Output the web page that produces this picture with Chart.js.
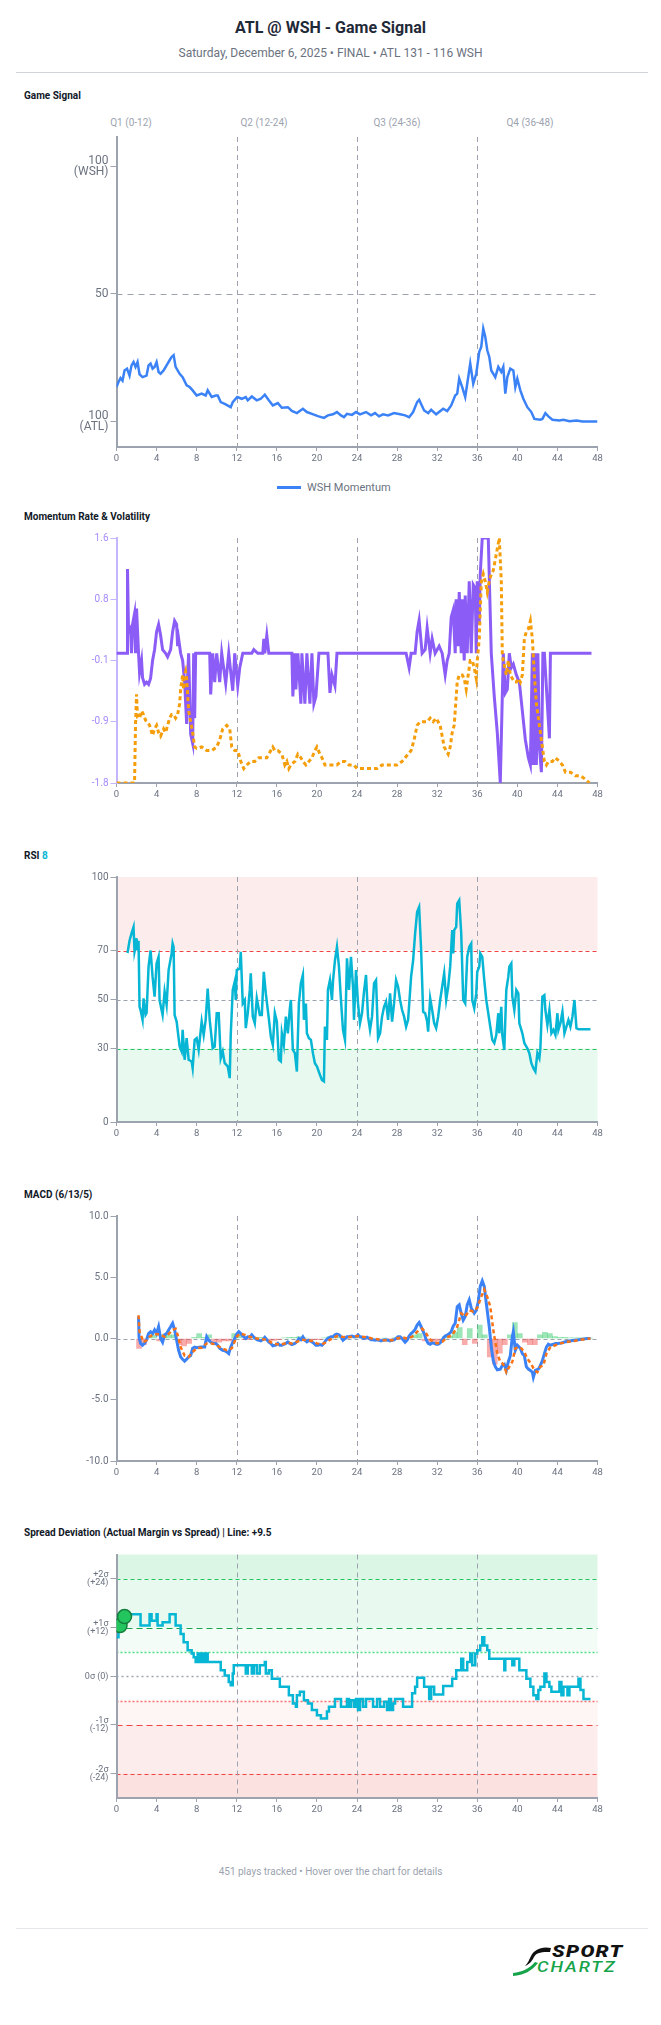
<!DOCTYPE html>
<html><head><meta charset="utf-8">
<script src="https://cdn.jsdelivr.net/npm/chart.js@4.4.1/dist/chart.umd.min.js"></script>
<style>
body{margin:0;background:#fff;font-family:Roboto,'Noto Sans',sans-serif;}
#page{position:relative;width:661px;height:2025px;overflow:hidden;background:#fff;}
.abs{position:absolute;}
.sec{position:absolute;left:24px;font-weight:700;font-size:10px;color:#111827;line-height:12px;white-space:nowrap;}
.q{position:absolute;top:117px;font-size:10px;color:#9ca3af;transform:translateX(-50%);white-space:nowrap;line-height:12px;}
canvas{position:absolute;left:0;}
</style></head>
<body><div id="page">
<div class="abs" style="top:18px;left:0;width:661px;text-align:center;font-size:16px;font-weight:700;color:#1f2937;line-height:20px">ATL @ WSH - Game Signal</div>
<div class="abs" style="top:45px;left:0;width:661px;text-align:center;font-size:12px;color:#6b7280;line-height:16px">Saturday, December 6, 2025 • FINAL • ATL 131 - 116 WSH</div>
<div class="abs" style="top:72px;left:16px;width:632px;height:1px;background:#d1d5db"></div>

<div class="sec" style="top:90px">Game Signal</div>
<div class="q" style="left:131px">Q1 (0-12)</div>
<div class="q" style="left:264px">Q2 (12-24)</div>
<div class="q" style="left:397px">Q3 (24-36)</div>
<div class="q" style="left:530px">Q4 (36-48)</div>
<canvas id="c1" width="661" height="337" style="top:130px;width:661px;height:337px"></canvas>
<div class="abs" style="top:486px;left:277px;width:24px;height:3px;background:#3b82f6"></div>
<div class="abs" style="top:481px;left:307px;font-size:11px;color:#6b7280;line-height:13px;white-space:nowrap">WSH Momentum</div>

<div class="sec" style="top:511px">Momentum Rate &amp; Volatility</div>
<canvas id="c2" width="661" height="273" style="top:530px;width:661px;height:273px"></canvas>

<div class="sec" style="top:850px">RSI <span style="color:#06b6d4">8</span></div>
<canvas id="c3" width="661" height="272" style="top:870px;width:661px;height:272px"></canvas>

<div class="sec" style="top:1189px">MACD (6/13/5)</div>
<canvas id="c4" width="661" height="273" style="top:1208px;width:661px;height:273px"></canvas>

<div class="sec" style="top:1527px">Spread Deviation (Actual Margin vs Spread) | Line: +9.5</div>
<canvas id="c5" width="661" height="272" style="top:1546px;width:661px;height:272px"></canvas>

<div class="abs" style="top:1866px;left:0;width:661px;text-align:center;font-size:10px;color:#9ca3af;line-height:12px">451 plays tracked • Hover over the chart for details</div>
<div class="abs" style="top:1928px;left:16px;width:632px;height:1px;background:#e5e7eb"></div>
<div class="abs" style="top:1944px;left:510px;width:130px;height:34px">
  <svg width="44" height="34" style="position:absolute;left:0;top:0">
    <path d="M41,4 C31,2 24,6 21,12 C19,16 18,19 15,22 C20,20 22,17 24,13 C27,8 32,8 40,8 Z" fill="#111"/>
    <path d="M3,29 C12,28 19,25 25,18 L28,19 C22,27 14,31 3,32 Z" fill="#16a34a"/>
  </svg>
  <span style="position:absolute;left:42px;top:1px;transform-origin:left top;transform:scaleX(1.3);font-style:italic;font-weight:900;font-size:16px;line-height:14px;color:#111;letter-spacing:1px;white-space:nowrap">SPORT</span>
  <span style="position:absolute;left:27px;top:16px;transform-origin:left top;transform:scaleX(1.3);font-style:italic;font-weight:500;font-size:14px;line-height:14px;color:#16a34a;letter-spacing:1.5px;white-space:nowrap">CHARTZ</span>
</div>
</div>
<script>
// ---------- DATA ----------
const xTickValues = [0,4,8,12,16,20,24,28,32,36,40,44,48];
const quarterLines = [12,24,36];

// Game Signal (WSH momentum, 0 = ATL side, 100 = WSH side)
const gsMinutes = [0,0.2,0.4,0.6,0.8,1.05,1.3,1.5,1.7,1.9,
 2.1,2.3,2.6,3.0,3.2,3.4,3.6,3.8,4.0,4.2,
 4.4,4.7,5.1,5.3,5.5,5.7,5.9,6.3,6.6,7.0,
 7.3,7.6,8.0,8.5,8.9,9.1,9.5,9.9,10.1,10.4,
 10.8,11.4,11.6,12.05,12.5,12.9,13.1,13.5,14.0,14.4,
 14.8,15.2,15.6,16.1,16.5,17.1,17.5,18.0,18.6,19.0,
 19.5,20.1,20.7,21.1,21.6,22.0,22.4,22.7,23.0,23.5,
 23.9,24.3,24.9,25.4,25.8,26.2,26.6,27.1,27.7,28.3,
 28.8,29.2,29.6,30.0,30.2,30.7,31.1,31.4,31.9,32.6,
 33.0,33.4,33.8,34.0,34.2,34.5,34.8,35.0,35.3,35.6,
 35.9,36.2,36.4,36.6,36.8,37.0,37.2,37.4,37.8,38.1,
 38.4,38.6,38.8,39.0,39.3,39.6,39.8,40.0,40.3,40.6,
 41.0,41.4,41.7,42.3,42.5,42.8,43.1,43.5,44.2,44.6,
 45.2,45.9,46.5,48];
const gsValues = [13.5,15.5,17,16,20,20.7,18,22,23.3,21.4,
 23.3,18.5,17.4,18,22,22.7,20.7,21.4,23.3,19.4,
 18.7,20,22.7,24,25.3,26,21.4,18.7,17.4,14.2,
 13.5,12.2,10.2,10.9,10.2,12.2,9.6,10.2,10.2,7.6,
 6.9,5.6,7.6,9.6,8.9,9.6,8.3,9.8,8.3,8.9,
 10.5,8.3,6.3,7.2,5.4,5.6,4.1,3.3,5.0,3.7,
 3.0,2.1,1.4,2.4,2.8,3.7,2.4,1.7,3.0,2.6,
 3.7,2.8,3.7,2.4,3.3,2.0,2.8,2.4,3.3,2.8,
 2.4,1.7,3.7,7.6,8.5,4.3,3.3,4.6,2.8,5.0,
 4.1,6.3,10.2,10.9,16.8,13.5,9.6,14.8,22.7,14.8,
 18.7,27.3,29.2,36.4,33.2,27.9,25.3,20,17.4,21.4,
 19.4,21.4,10.9,17.4,20.7,20,13.5,16.8,12.2,8.9,
 5.6,3.7,1.0,0.7,1.0,3.3,2.0,0.7,0.4,0.7,
 0.1,0.4,0,0];
const gsTickValues = [0,50,100];
const gsTickLabels = [['100','(ATL)'],'50',['100','(WSH)']];

// Momentum rate (purple) and volatility (orange dotted)
const rateMinutes = [0,1.05,1.1,1.2,1.4,1.5,1.6,1.8,1.9,2.0,
 2.2,2.3,2.5,2.6,2.8,3.0,3.2,3.4,3.6,3.8,
 4.0,4.2,4.4,4.6,4.9,5.1,5.4,5.6,5.8,6.0,
 6.1,6.2,6.4,6.6,6.8,7.0,7.1,7.2,7.4,7.6,
 7.7,7.8,7.9,9.3,9.4,9.6,9.8,10.0,10.3,10.5,
 10.9,11.2,11.6,11.8,12.1,12.3,12.6,13.5,13.7,14.1,
 14.6,14.7,14.8,15.0,15.2,17.5,17.6,17.8,17.9,18.1,
 18.4,18.5,18.8,19.0,19.3,19.5,19.7,19.9,20.2,21.1,
 21.3,21.5,21.8,22.0,28.9,29.2,29.4,29.8,30.0,30.2,
 30.5,30.8,31.0,31.3,31.5,31.8,32.2,32.5,32.6,32.8,
 33.0,33.2,33.4,33.6,33.8,33.9,34.1,34.2,34.4,34.5,
 34.7,34.8,35.0,35.2,35.4,35.6,35.8,35.9,36.0,36.2,
 36.3,36.5,37.1,37.4,37.7,38.0,38.3,38.6,38.8,39.0,
 39.2,39.4,39.6,39.9,40.2,40.5,40.8,41.1,41.3,41.5,
 41.6,41.75,41.9,42.05,42.2,42.4,42.55,42.7,43.2,43.3,
 47.4];
const rateValues = [0,0,1.17,0.3,0.35,0,0.4,0.55,0,0.62,
 0,-0.27,-0.1,-0.34,-0.43,-0.4,-0.43,-0.35,-0.1,0.05,
 0.3,0.4,0.25,0.05,0,-0.05,0.05,0.3,0.45,0.4,
 0.1,0.2,0,-0.1,-0.4,-0.98,-0.3,0,-1.12,-1.25,
 0,-0.9,0,0,-0.57,0,-0.4,0,-0.4,0,
 -0.42,0,-0.52,0,-0.45,-0.2,0,0,0.05,0,
 0,0.2,0,0.25,0,0,-0.6,0,-0.5,0,
 -0.7,0,-0.7,0,-0.7,0,-0.7,-0.6,0,0,
 -0.55,-0.3,-0.45,0,0,-0.2,0,0,0.3,0.46,
 0,0.05,0.35,0,0.2,0,0.1,0,-0.1,-0.3,
 -0.1,0,0.5,0.6,0,0.75,0.1,0.85,0,0.75,
 -0.1,0.8,0,1.0,0,0.95,0.9,0,1.0,0.4,
 1.1,1.6,1.6,0,-0.6,-1.1,-1.8,0,-0.55,-0.5,
 0,-0.2,-0.15,-0.3,-0.4,-0.8,-1.2,-1.45,-1.55,0,
 -1.55,0,-1.55,0,-1.3,-1.65,0,0,-1.18,0,
 0];
const volMinutes = [0,1.8,1.9,2.0,2.1,2.3,2.5,2.7,2.9,3.1,
 3.3,3.6,3.8,4.0,4.2,4.4,4.7,4.9,5.1,5.3,
 5.5,5.7,5.9,6.1,6.3,6.4,6.6,6.7,6.8,6.9,
 7.0,7.2,7.4,7.6,7.8,8.0,8.5,9.0,9.5,10.0,
 10.3,10.6,11.0,11.3,11.5,11.8,12.1,12.4,12.7,13.0,
 13.4,13.8,14.2,14.6,15.0,15.4,15.6,15.8,16.1,16.5,
 16.8,17.0,17.2,17.4,17.8,18.1,18.4,18.6,18.9,19.2,
 19.5,19.8,20.0,20.3,20.5,20.8,21.2,21.6,22.0,22.4,
 22.8,23.2,23.7,24.0,24.5,25.0,25.5,26.0,26.5,27.0,
 27.5,28.0,28.5,28.8,29.1,29.4,29.7,30.0,30.3,30.6,
 31.0,31.3,31.6,31.9,32.1,32.3,32.5,32.7,32.9,33.1,
 33.3,33.5,33.7,33.8,33.9,34.0,34.2,34.5,34.7,34.9,
 35.1,35.3,35.5,35.7,35.9,36.0,36.2,36.4,36.6,36.8,
 37.0,37.2,37.4,37.6,37.8,38.0,38.2,38.4,38.5,38.6,
 38.9,39.1,39.3,39.5,39.7,39.9,40.1,40.3,40.5,40.7,
 40.9,41.1,41.3,41.5,41.7,41.9,42.1,42.3,42.5,42.7,
 42.9,43.1,43.5,43.8,44.2,44.5,44.8,45.3,45.8,46.3,
 46.8,47.2];
const volValues = [-1.8,-1.8,-0.98,-0.57,-0.89,-0.9,-0.8,-0.85,-0.93,-0.95,
 -1.0,-1.14,-1.05,-1.0,-1.1,-1.15,-1.05,-1.1,-1.0,-0.9,
 -0.85,-0.85,-0.9,-0.85,-0.7,-0.5,-0.3,-0.5,-0.3,-0.25,
 -0.35,-0.8,-0.95,-1.1,-1.3,-1.32,-1.3,-1.35,-1.35,-1.3,
 -1.2,-1.05,-1.0,-1.05,-1.3,-1.35,-1.35,-1.5,-1.6,-1.55,
 -1.5,-1.5,-1.45,-1.45,-1.45,-1.35,-1.3,-1.35,-1.35,-1.4,
 -1.55,-1.5,-1.6,-1.55,-1.5,-1.4,-1.45,-1.5,-1.55,-1.5,
 -1.45,-1.35,-1.3,-1.4,-1.45,-1.55,-1.55,-1.55,-1.55,-1.5,
 -1.5,-1.55,-1.55,-1.6,-1.6,-1.6,-1.6,-1.6,-1.55,-1.55,
 -1.55,-1.55,-1.5,-1.45,-1.4,-1.35,-1.2,-1.0,-0.95,-0.95,
 -0.95,-0.9,-0.95,-0.9,-0.95,-1.0,-1.15,-1.3,-1.35,-1.4,
 -1.3,-1.1,-1.0,-0.8,-0.6,-0.4,-0.3,-0.3,-0.35,-0.5,
 -0.3,-0.1,-0.1,-0.2,-0.35,-0.1,0.2,0.98,1.1,1.0,
 0.85,1.0,1.1,1.15,1.3,1.45,1.6,1.0,0,-0.1,
 -0.3,-0.1,-0.3,-0.35,-0.4,-0.4,-0.35,-0.4,-0.3,0.2,
 0.3,0.34,0.45,0.2,-0.3,-0.7,-0.9,-1.1,-1.3,-1.5,
 -1.55,-1.5,-1.5,-1.45,-1.5,-1.55,-1.65,-1.65,-1.7,-1.7,
 -1.75,-1.8];
const momTickValues = [-1.8,-0.95,-0.1,0.75,1.6];
const momTickLabels = ['-1.8','-0.9','-0.1','0.8','1.6'];

// RSI (8)
const rsiMinutes = [1.1,1.3,1.5,1.7,1.8,1.9,2.0,2.1,2.2,2.3,
 2.4,2.6,2.7,2.9,3.0,3.2,3.4,3.6,3.8,4.0,
 4.2,4.3,4.6,4.8,5.0,5.2,5.5,5.6,5.7,5.8,
 6.0,6.3,6.5,6.6,6.8,7.0,7.2,7.5,7.6,7.8,
 8.0,8.2,8.5,8.7,8.9,9.1,9.3,9.6,9.8,10.0,
 10.2,10.4,10.6,10.8,11.1,11.3,11.4,11.6,11.8,11.9,
 12.0,12.3,12.4,12.6,12.8,12.9,13.1,13.3,13.4,13.6,
 13.8,14.0,14.3,14.5,14.7,14.9,15.2,15.4,15.6,15.8,
 16.0,16.2,16.4,16.5,16.7,16.9,17.1,17.3,17.4,17.6,
 17.8,18.0,18.2,18.4,18.6,18.7,18.9,19.0,19.2,19.4,
 19.6,19.8,20.0,20.3,20.5,20.7,20.8,21.0,21.1,21.3,
 21.5,21.6,21.8,22.0,22.2,22.4,22.6,22.8,23.0,23.2,
 23.4,23.6,23.7,23.9,24.1,24.3,24.5,24.7,24.9,25.1,
 25.3,25.5,25.7,25.9,26.1,26.3,26.5,26.7,26.9,27.1,
 27.3,27.5,27.7,27.9,28.1,28.3,28.5,28.7,28.9,29.1,
 29.4,29.6,29.8,30.0,30.2,30.4,30.6,30.8,31.0,31.1,
 31.3,31.5,31.7,31.9,32.1,32.3,32.5,32.7,32.9,33.1,
 33.3,33.5,33.6,33.7,33.9,34.0,34.2,34.4,34.6,34.8,
 35.0,35.2,35.4,35.5,35.7,35.9,36.0,36.2,36.3,36.5,
 36.7,36.9,37.1,37.3,37.5,37.7,37.9,38.1,38.2,38.4,
 38.5,38.7,38.9,39.1,39.2,39.4,39.5,39.7,39.9,40.1,
 40.2,40.4,40.5,40.7,41.0,41.2,41.4,41.6,41.8,42.0,
 42.2,42.3,42.5,42.7,42.8,43.0,43.2,43.4,43.6,43.8,
 44.0,44.1,44.3,44.5,44.7,44.9,45.1,45.3,45.5,45.7,
 45.9,46.1,47.3];
const rsiValues = [69,74,77,79.6,69.5,71.5,75,70,74,47,
 45.7,41.7,50.5,43.7,44.4,63.4,70,59.3,51.2,64.7,
 67.4,49.8,43.7,53.2,47.8,62,68.8,72.9,71.5,43.7,
 41,30.8,28.8,37.6,25.4,34.2,25.4,24.7,22,33.5,
 34.2,29.4,41,35.5,41.7,54.5,41.7,30.1,30.8,44.4,
 44.4,26,28.8,24,22.7,17.9,35.5,53.9,57.3,49.8,
 62,62.7,69.5,48.4,49.8,38.3,44.4,53.9,60.7,43,
 40.3,50.5,43.7,43.7,61.3,52.5,42.3,34.9,31.5,44.4,
 41,25.4,24.7,36.2,31.5,43,36.2,46.4,49.8,29.4,
 28.1,20.6,48.4,56.6,60,41.7,48.4,36.2,34.2,33.5,
 28.1,24,22.7,19.3,17.2,16.6,39,33.5,53.9,57.9,
 49.8,57.3,66,71.5,63.4,49.8,37.6,33.5,66.8,53.9,
 67.4,55.2,41.7,62,48.4,40.3,44.4,53.2,60,43,
 37.6,43,56.6,57.9,34.2,36.2,43,47,49.1,41.7,
 52.5,41,48.4,57.9,55.2,49.8,45.7,43,38.9,41.7,
 59.3,66,77,85.8,87.8,70.1,45,44.4,41,36.9,
 50.5,45.7,40.3,38.3,43,49.8,55.2,60.7,49.8,55.2,
 63.4,78.3,68.8,78.3,79.6,89.1,90.5,77,49.8,48.4,
 67.4,71.5,72.9,49.8,46.4,52.5,61.3,63.4,68.8,67.4,
 57.9,49.8,44.4,38.9,33.5,32.2,35.5,44.4,36.2,47,
 35.5,29.4,53.9,59.3,63.4,64.7,51.2,45.7,53.9,52.5,
 40.3,37.6,36.2,32.2,30.1,28.1,24,22,20.6,28.1,
 26,30.1,51.2,51.8,45.7,39.6,45.7,36.2,37.6,35.5,
 44.4,37.6,40.3,45,36.2,38.9,41.7,38.9,43,49.8,
 38.3,37.9,37.9];
const rsiTickValues = [0,30,50,70,100];
const rsiTickLabels = ['0','30','50','70','100'];

// MACD (6/13/5)
const macdMinutes = [2.2,2.25,2.4,2.6,2.8,3.0,3.2,3.4,3.6,3.8,
 4.0,4.2,4.4,4.6,4.8,5.0,5.2,5.4,5.6,5.8,
 6.0,6.2,6.4,6.6,6.8,7.0,7.2,7.4,7.6,7.8,
 8.0,8.4,8.8,9.0,9.2,9.4,9.6,9.9,10.1,10.3,
 10.6,10.8,11.0,11.2,11.4,11.6,11.8,12.0,12.2,12.4,
 12.6,12.9,13.1,13.3,13.5,13.7,14.0,14.2,14.4,14.6,
 14.8,15.0,15.2,15.4,15.6,15.9,16.1,16.3,16.5,16.7,
 16.9,17.1,17.3,17.5,17.8,18.0,18.2,18.4,18.6,18.8,
 19.0,19.2,19.5,19.7,19.9,20.1,20.3,20.5,20.7,20.9,
 21.1,21.4,21.6,21.8,22.0,22.2,22.4,22.6,22.8,23.0,
 23.2,23.5,23.7,23.9,24.1,24.3,24.5,24.7,25.0,25.2,
 25.4,25.6,25.8,26.0,26.2,26.4,26.6,26.8,27.1,27.3,
 27.5,27.7,27.9,28.1,28.3,28.5,28.8,29.0,29.2,29.4,
 29.6,29.8,30.0,30.2,30.4,30.7,30.9,31.1,31.3,31.5,
 31.7,31.9,32.1,32.3,32.6,32.8,33.0,33.2,33.4,33.6,
 33.8,34.0,34.2,34.4,34.6,34.8,35.0,35.2,35.4,35.7,
 35.9,36.1,36.3,36.5,36.7,36.9,37.2,37.4,37.6,37.8,
 38.0,38.3,38.5,38.7,38.9,39.1,39.3,39.5,39.6,39.8,
 40.0,40.3,40.5,40.7,40.9,41.1,41.3,41.5,41.6,41.8,
 42.1,42.3,42.5,42.7,42.9,43.1,43.3,43.6,43.8,44.0,
 44.4,44.8,45.2,45.7,46.1,46.5,47.0,47.3];
const macdValues = [1.8,0.1,-0.4,-0.55,-0.4,-0.1,0.4,0.55,0.4,0.7,
 0.4,0.96,0,-0.3,0.3,0.4,0.7,0.96,1.24,0.7,
 -0.14,-0.96,-1.5,-1.7,-1.85,-1.7,-1.5,-1.4,-0.8,-0.7,
 -0.75,-0.7,-0.7,0.14,-0.14,-0.3,-0.4,-0.4,-0.55,-0.8,
 -0.96,-1.0,-1.1,-1.24,-0.7,-0.3,0,0.36,0.55,0.4,
 0.2,0,0.14,0.1,0.3,0.1,-0.1,-0.14,-0.2,-0.1,
 0.1,-0.1,-0.3,-0.4,-0.6,-0.55,-0.4,-0.55,-0.55,-0.47,
 -0.4,-0.27,-0.4,-0.5,-0.4,-0.27,0,-0.1,0.14,-0.14,
 -0.27,-0.14,-0.27,-0.4,-0.55,-0.55,-0.5,-0.55,-0.4,-0.14,
 0,0.14,0.14,0.3,0.36,0.3,0.14,-0.14,0,0.14,
 0.14,0.2,0.14,0.14,0.3,0.14,0.1,0,0.1,0,
 -0.1,-0.1,-0.14,-0.1,-0.14,-0.2,-0.14,-0.1,-0.14,-0.2,
 -0.14,-0.1,0,0.14,0.14,0,-0.3,-0.14,0.2,0.4,
 0.55,0.74,1.1,1.3,0.96,0.4,-0.1,-0.4,-0.47,-0.36,
 -0.4,-0.47,-0.47,-0.36,0,0.2,0.27,0.4,0.55,1.0,
 1.24,2.6,2.75,2.06,1.5,1.8,2.75,3.16,2.5,2.06,
 2.3,3.0,4.26,4.7,4.26,2.9,0.96,-0.7,-1.8,-2.3,
 -2.55,-2.5,-2.2,-2.1,-2.6,-1.9,-1.4,0.14,0.55,-0.96,
 -0.55,-0.8,-1.24,-1.4,-2.3,-2.5,-2.6,-2.75,-3.16,-2.6,
 -2.5,-2.2,-1.8,-1.24,-0.7,-0.47,-0.55,-0.47,-0.4,-0.4,
 -0.36,-0.27,-0.2,-0.14,-0.1,-0.05,0,0];
const signalMinutes = [2.2,2.3,2.5,2.7,3.0,3.3,3.6,4.0,4.4,4.8,
 5.2,5.6,5.9,6.1,6.4,6.8,7.2,7.6,8.0,8.5,
 9.0,9.5,10.0,10.5,11.0,11.5,12.0,12.3,12.8,13.3,
 14.0,14.5,15.0,15.5,16.0,16.5,17.0,17.5,18.0,18.5,
 19.0,19.5,20.0,20.5,21.0,21.5,22.0,22.5,23.0,23.5,
 24.0,24.5,25.0,25.5,26.0,26.5,27.0,27.5,28.0,28.5,
 29.0,29.5,30.0,30.5,30.8,31.2,31.6,32.0,32.5,33.0,
 33.5,34.0,34.4,34.8,35.2,35.6,36.0,36.4,36.7,37.0,
 37.3,37.6,38.0,38.3,38.6,38.9,39.2,39.5,39.8,40.1,
 40.4,40.7,41.0,41.4,41.7,42.0,42.3,42.6,42.9,43.3,
 43.8,44.3,45.0,45.7,46.3,47.0,47.3];
const signalValues = [1.9,0.55,0.14,-0.3,-0.14,0.14,0.3,0.36,0.3,0.14,
 0.36,0.7,0.8,0.3,-0.7,-1.4,-1.5,-1.1,-0.8,-0.75,
 -0.4,-0.4,-0.55,-0.8,-0.96,-0.8,0.14,0.4,0.3,0.14,
 0,-0.05,-0.1,-0.36,-0.47,-0.47,-0.36,-0.4,-0.27,-0.1,
 -0.14,-0.2,-0.4,-0.47,-0.27,0,0.2,0.14,0.1,0.14,
 0.2,0.14,0.1,0,-0.05,-0.14,-0.14,-0.14,0,0.1,
 0,0.14,0.55,0.8,0.55,0,-0.27,-0.4,-0.27,0.1,
 0.27,0.96,2.06,1.8,2.3,2.2,2.5,3.4,4.0,3.4,
 2.6,0.7,-1.24,-1.9,-2.1,-2.75,-2.3,-1.9,-0.8,-0.7,
 -0.8,-1.1,-1.65,-2.1,-2.6,-2.75,-2.3,-2.2,-1.24,-0.7,
 -0.55,-0.4,-0.27,-0.2,-0.1,-0.03,0];
const histMinutes = [2.25,2.75,3.25,3.75,4.25,4.75,5.25,5.75,6.25,6.75,
 7.25,7.75,8.25,8.75,9.25,9.75,10.25,10.75,11.25,11.75,
 12.25,12.75,13.25,13.75,14.25,14.75,15.25,15.75,16.25,16.75,
 17.25,17.75,18.25,18.75,19.25,19.75,20.25,20.75,21.25,21.75,
 22.25,22.75,23.25,23.75,24.25,24.75,25.25,25.75,26.25,26.75,
 27.25,27.75,28.25,28.75,29.25,29.75,30.25,30.75,31.25,31.75,
 32.25,32.75,33.25,33.75,34.25,34.75,35.25,35.75,36.25,36.75,
 37.25,37.75,38.25,38.75,39.25,39.75,40.25,40.75,41.25,41.75,
 42.25,42.75,43.25,43.75,44.25,44.75,45.25,45.75,46.25,46.75,
 47.25];
const histValues = [-0.8,-0.5,0.2,0.3,-0.2,0.3,0.3,0.3,-0.5,-0.6,
 -0.4,0.1,0.4,0.1,0.3,-0.3,-0.3,-0.2,-0.2,0.4,
 0.3,-0.1,-0.1,0.05,0.1,0.05,-0.15,-0.15,-0.1,0.05,
 0.1,0.1,0.15,0.05,-0.1,-0.1,-0.1,0.05,0.15,0.15,
 0.1,-0.05,0.05,0.05,0.05,-0.05,-0.05,-0.05,-0.05,0.02,
 -0.02,0.05,0.05,-0.1,0.1,0.3,0.4,-0.2,-0.4,-0.3,
 -0.2,0.15,0.2,0.5,0.9,-0.5,0.8,-0.4,1.1,0.3,
 -1.5,-2.1,-1.2,-0.5,0.3,1.3,0.4,-0.3,-0.5,-0.5,
 0.3,0.5,0.4,0.15,0.1,0.1,0.05,0.05,0.05,0.02,
 0.02];
const macdTickValues = [-10,-5,0,5,10];
const macdTickLabels = ['-10.0','-5.0','0.0','5.0','10.0'];

// Spread deviation (actual margin vs spread)
const spreadMinutes = [0,0.2,0.4,0.8,1.0,1.1,2.4,3.3,3.5,4.0,
 4.1,4.6,5.3,5.9,6.4,6.7,7.1,7.5,7.7,7.9,
 8.1,8.3,8.5,8.7,8.9,9.1,10.4,10.8,11.2,11.4,
 11.6,11.7,12.9,13.1,13.5,13.7,14.0,14.3,14.8,14.9,
 15.2,15.5,16.3,17.2,17.6,17.9,18.0,18.3,18.7,19.1,
 19.5,20.0,20.4,21.0,21.2,21.8,22.4,23.0,23.2,23.4,
 23.7,23.9,24.1,24.3,24.6,24.9,25.6,26.0,26.3,26.7,
 27.0,27.2,27.4,27.6,27.8,28.6,29.5,29.8,30.0,30.7,
 31.2,31.4,31.7,32.6,33.5,33.9,34.4,34.6,35.0,35.3,
 35.5,35.8,36.0,36.3,36.5,36.7,37.0,37.2,38.7,38.8,
 39.5,39.7,40.2,40.9,41.3,41.6,41.9,42.1,42.3,42.7,
 42.9,43.2,43.4,44.2,44.4,44.6,45.0,45.2,46.1,46.3,
 46.6,47.3];
const spreadValues = [9.6,11.3,12.9,13.3,14.9,15.3,12.5,15.3,13.7,15.3,
 12.5,13.3,15.3,12.5,10.4,8.4,6.4,5.6,4.7,3.5,
 5.6,3.5,5.6,3.5,5.6,3.5,1.5,0.2,-1.4,-2.2,
 0.7,2.7,0.7,2.7,0.7,2.7,0.7,2.7,3.5,0.7,
 1.5,-0.6,-2.6,-4.7,-6.7,-7.5,-4.7,-3.8,-5.9,-6.7,
 -8.3,-9.6,-10.4,-8.7,-7.5,-5.6,-7.5,-5.6,-7.5,-5.9,
 -7.5,-5.6,-8.3,-5.6,-7.5,-5.6,-7.5,-5.6,-7.5,-6.3,
 -8.3,-5.6,-8.3,-6.7,-5.6,-7.5,-4.2,-2.6,-0.4,-2.6,
 -5.6,-2.6,-4.5,-2.4,-0.6,1.5,4.3,1.5,3.5,5.6,
 2.7,5.6,6.4,7.6,9.6,7.6,6.4,4.3,1.5,4.3,
 2.7,4.3,1.5,-0.6,-2.6,-4.7,-5.6,-3.4,-2.6,0.7,
 -1.4,-2.6,-3.8,-1.4,-4.7,-2.6,-4.7,-2.6,-0.6,-3.4,
 -5.6,-5.6];
const spreadMarkerMinutes = [0.35,0.8];
const spreadMarkerValues = [12.5,14.7];
const spreadTickValues = [-24,-12,0,12,24];
const spreadTickLabels = [['-2σ','(-24)'],['-1σ','(-12)'],'0σ (0)',['+1σ','(+12)'],['+2σ','(+24)']];

// ---------- HELPERS ----------
Chart.defaults.font.family = 'Roboto, "Noto Sans", sans-serif';
const zip = (xs, ys) => xs.map((x, i) => ({x, y: ys[i]}));
const GRID = '#9ca3af';

const refPlugin = {
  id: 'refs',
  beforeDraw(chart, args, o) {
    const {ctx, chartArea: a, scales: {x, y}} = chart;
    ctx.save();
    (o.bands || []).forEach(b => {
      const y1 = y.getPixelForValue(b.from), y2 = y.getPixelForValue(b.to);
      ctx.fillStyle = b.color;
      ctx.fillRect(a.left, Math.min(y1, y2), a.right - a.left, Math.abs(y2 - y1));
    });
    (o.h || []).forEach(l => {
      const py = Math.round(y.getPixelForValue(l.v)) + 0.5;
      ctx.beginPath(); ctx.setLineDash(l.dash || []); ctx.lineWidth = l.w || 1; ctx.strokeStyle = l.c;
      ctx.moveTo(a.left, py); ctx.lineTo(a.right, py); ctx.stroke();
    });
    quarterLines.forEach(v => {
      const px = Math.round(x.getPixelForValue(v)) + 0.5;
      ctx.beginPath(); ctx.setLineDash([5, 4]); ctx.lineWidth = 1; ctx.strokeStyle = GRID;
      ctx.moveTo(px, a.top); ctx.lineTo(px, a.bottom); ctx.stroke();
    });
    ctx.restore();
  }
};

function fixY(s) { s.width = 116.5; s.paddingTop = 0; s.paddingBottom = 0; s.paddingLeft = 0; s.paddingRight = 0; }
function fixX(s) { s.height = 20; s.paddingTop = 0; s.paddingBottom = 0; s.paddingLeft = 0; s.paddingRight = 0; }

function xScale() {
  return {
    type: 'linear', min: 0, max: 48, offset: false, afterFit: fixX,
    afterBuildTicks: s => { s.ticks = xTickValues.map(v => ({value: v})); },
    ticks: {color: '#6b7280', font: {size: 9.5}, padding: 2, maxRotation: 0, autoSkip: false},
    grid: {drawOnChartArea: false, offset: false, tickLength: 4, color: GRID},
    border: {color: GRID, width: 2}
  };
}
function yScale(min, max, vals, labels, o = {}) {
  return {
    type: 'linear', min, max, afterFit: fixY,
    afterBuildTicks: s => { s.ticks = vals.map(v => ({value: v})); },
    ticks: {color: o.tc || '#6b7280', font: {size: o.fs || 10, lineHeight: o.lh || 1.2}, padding: 2, autoSkip: false,
      callback: (v, i) => labels[i]},
    grid: {drawOnChartArea: false, tickLength: 6, color: o.bc || GRID},
    border: {color: o.bc || GRID, width: 2}
  };
}
function baseOptions(padTop, yS, refs) {
  return {
    responsive: false, animation: false, devicePixelRatio: 1,
    layout: {padding: {top: padTop, left: 0, right: 63.5, bottom: 0}},
    plugins: {legend: {display: false}, tooltip: {enabled: false}, refs},
    scales: {x: xScale(), y: yS},
    elements: {point: {radius: 0}, line: {tension: 0}}
  };
}

// ---------- CHARTS ----------
new Chart(document.getElementById('c1'), {
  type: 'line',
  data: {datasets: [{label: 'WSH Momentum', data: zip(gsMinutes, gsValues), borderColor: '#3b82f6', borderWidth: 2.5, pointRadius: 0}]},
  options: baseOptions(7, yScale(-10, 111.5, gsTickValues, gsTickLabels, {fs: 12, lh: 0.95}),
    {h: [{v: 50, c: GRID, dash: [6, 5], w: 1}]}),
  plugins: [refPlugin]
});

new Chart(document.getElementById('c2'), {
  type: 'line',
  data: {datasets: [
    {label: 'Volatility', data: zip(volMinutes, volValues), borderColor: '#f59e0b', borderWidth: 3, borderDash: [4, 3], pointRadius: 0, order: 0},
    {label: 'Momentum Rate', data: zip(rateMinutes, rateValues), borderColor: '#8b5cf6', borderWidth: 3, pointRadius: 0, order: 1}
  ]},
  options: baseOptions(8, yScale(-1.8, 1.6, momTickValues, momTickLabels, {tc: '#a78bfa', bc: '#c4b5fd'}), {}),
  plugins: [refPlugin]
});

new Chart(document.getElementById('c3'), {
  type: 'line',
  data: {datasets: [{label: 'RSI', data: zip(rsiMinutes, rsiValues), borderColor: '#06b6d4', borderWidth: 2.5, pointRadius: 0}]},
  options: baseOptions(7, yScale(0, 100, rsiTickValues, rsiTickLabels), {
    bands: [{from: 70, to: 100, color: 'rgba(239,68,68,0.1)'}, {from: 0, to: 30, color: 'rgba(34,197,94,0.1)'}],
    h: [{v: 70, c: '#ef4444', dash: [4, 3], w: 1.2}, {v: 50, c: GRID, dash: [4, 3], w: 1.2}, {v: 30, c: '#22c55e', dash: [4, 3], w: 1.2}]
  }),
  plugins: [refPlugin]
});

new Chart(document.getElementById('c4'), {
  type: 'line',
  data: {datasets: [
    {type: 'line', label: 'Signal', data: zip(signalMinutes, signalValues), borderColor: '#f97316', borderWidth: 2.5, borderDash: [4, 3], pointRadius: 0, order: 0},
    {type: 'line', label: 'MACD', data: zip(macdMinutes, macdValues), borderColor: '#3b82f6', borderWidth: 3, pointRadius: 0, order: 1},
    {type: 'bar', label: 'Histogram', data: zip(histMinutes, histValues), order: 2, barPercentage: 1, categoryPercentage: 1,
      backgroundColor: c => (c.raw && c.raw.y >= 0) ? 'rgba(34,197,94,0.45)' : 'rgba(239,68,68,0.45)'}
  ]},
  options: baseOptions(8, yScale(-10, 10, macdTickValues, macdTickLabels), {h: [{v: 0, c: GRID, dash: [4, 3], w: 1}]}),
  plugins: [refPlugin]
});

new Chart(document.getElementById('c5'), {
  type: 'line',
  data: {datasets: [
    {type: 'scatter', label: 'Markers', data: zip(spreadMarkerMinutes, spreadMarkerValues), pointRadius: 7, pointBackgroundColor: '#22c55e', pointBorderColor: '#15803d', pointBorderWidth: 1.5, showLine: false, order: 0},
    {label: 'Spread Deviation', data: zip(spreadMinutes, spreadValues), borderColor: '#06b6d4', borderWidth: 2.5, pointRadius: 0, stepped: true, order: 1}
  ]},
  options: baseOptions(8, yScale(-30, 30, spreadTickValues, spreadTickLabels, {fs: 9, lh: 0.95}), {
    bands: [
      {from: 24, to: 30, color: 'rgba(34,197,94,0.16)'}, {from: 12, to: 24, color: 'rgba(34,197,94,0.10)'}, {from: 6, to: 12, color: 'rgba(34,197,94,0.05)'},
      {from: -12, to: -6, color: 'rgba(239,68,68,0.05)'}, {from: -24, to: -12, color: 'rgba(239,68,68,0.10)'}, {from: -30, to: -24, color: 'rgba(239,68,68,0.16)'}
    ],
    h: [
      {v: 24, c: '#22c55e', dash: [4, 3], w: 1.2}, {v: 12, c: '#16a34a', dash: [6, 4], w: 1.2}, {v: 6, c: '#4ade80', dash: [2, 2], w: 1.5},
      {v: 0, c: GRID, dash: [2, 3], w: 1.5}, {v: -6, c: '#f87171', dash: [2, 2], w: 1.5},
      {v: -12, c: '#ef4444', dash: [6, 4], w: 1.2}, {v: -24, c: '#ef4444', dash: [4, 3], w: 1.2}
    ]
  }),
  plugins: [refPlugin]
});
</script>
</body></html>
